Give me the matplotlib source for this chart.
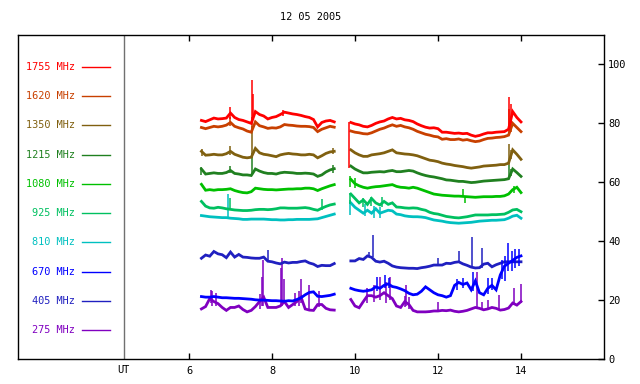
import numpy as np
import matplotlib
matplotlib.use("Agg")
import matplotlib.pyplot as plt
from matplotlib.transforms import blended_transform_factory

plt.rcParams['font.family'] = ['DejaVu Sans Mono']

title = "12 05 2005"
labels = ["1755 MHz", "1620 MHz", "1350 MHz", "1215 MHz", "1080 MHz",
          "925 MHz", "810 MHz", "670 MHz", "405 MHz", "275 MHz"]
colors = ["#ff0000", "#c84000", "#806010", "#208020", "#00c000",
          "#00c060", "#00c0c0", "#0000ff", "#2020c0", "#8000c0"]

x_ticks = [6, 8, 10, 12, 14]
y_ticks = [0, 20, 40, 60, 80, 100]
ut_hour = 4.43

# sample times (UT hours) of the two observing segments
t_seg1 = np.round(np.arange(6.3, 9.51, 0.1), 2)
t_seg2 = np.concatenate([[9.85], np.round(np.arange(9.9, 14.01, 0.1), 2)])

v1755_a = [81, 80.6, 81.2, 81.8, 81.5, 81.6, 81.8, 83.5, 82, 81.3, 81, 80.5, 80, 84, 83, 82.5,
           81.5, 82, 82.3, 83, 83.8, 83.5, 83.2, 83, 82.7, 82.3, 82, 81.3, 78.8, 80.3, 80.8, 81, 80.5]
v1755_b = [65, 80.3, 79.8, 79.5, 79, 78.8, 79.3, 80, 80.5, 80.8, 81.5, 82, 81.5, 81.7, 81.2, 81,
           80.6, 79.8, 79.2, 78.7, 78.4, 78.5, 78.2, 77, 77, 76.8, 76.6, 76.7, 76.5, 76.6, 76, 75.6,
           75.9, 76.4, 76.8, 76.8, 77, 77.1, 77.2, 78, 84, 82, 80.5]
s1755 = [(6.99, 81.5, 85.6), (7.52, 80, 94.7), (7.55, 82, 90), (8.27, 82.5, 84.5),
         (9.86, 65, 80.3), (13.72, 78, 89), (13.75, 80, 86.5)]

v1620_a = [78.6, 78.2, 78.6, 79, 78.8, 79, 79.4, 80.3, 79, 78.5, 78.1, 77.4, 77, 80.5, 79.2, 78.8,
           78.3, 78.5, 78.4, 78.8, 79.6, 79.4, 79.3, 79.1, 79, 79, 78.9, 78.6, 77.2, 78, 78.5, 79, 78.7]
v1620_b = [76, 77.4, 77, 76.8, 76.5, 76.4, 76.8, 77.4, 78, 78.4, 79, 79.5, 79, 79.3, 78.8, 78.5,
           78, 77.3, 76.8, 76.3, 76, 75.6, 75.4, 74.6, 74.8, 74.5, 74.5, 74.7, 74.3, 74.5, 74.1, 73.8,
           74, 74.5, 74.9, 75, 75.2, 75.3, 75.5, 76, 80, 78.6, 77.2]
s1620 = [(6.99, 79, 82.3), (7.53, 77, 82), (13.72, 76, 84.8), (13.76, 77, 81)]

v1350_a = [70.5, 69.2, 69.3, 69.5, 69.3, 69.3, 69.7, 70.5, 69.5, 69, 68.5, 68.3, 68.5, 71.5, 70, 69.5,
           69.3, 69, 68.7, 69.3, 69.6, 69.8, 69.6, 69.5, 69.3, 69.3, 69.5, 69.3, 68.3, 69, 69.8, 70.3, 70.5]
v1350_b = [71.5, 71, 70, 69.3, 68.8, 68.8, 69.3, 69.5, 69.7, 70, 70.5, 71, 70, 69.8, 69.6, 69.5,
           69.3, 69, 68.5, 68, 67.5, 67.3, 67, 66.5, 66.2, 66, 65.7, 65.5, 65.3, 65, 64.8, 65,
           65.2, 65.5, 65.6, 65.7, 65.8, 66, 66, 66.5, 71, 69.5, 67.8]
s1350 = [(6.31, 69, 71.2), (6.99, 69.3, 72.3), (7.52, 68.3, 79), (9.46, 69.5, 71.8),
         (13.72, 66, 73), (13.77, 68, 71)]

v1215_a = [64.5, 62.8, 63, 63.2, 63, 63, 63.3, 64, 63, 62.8, 62.5, 62.5, 62.3, 64.5, 63.8, 63.3,
           63, 63, 62.8, 63.2, 63.4, 63.3, 63.2, 63, 63, 63.1, 63, 62.8, 62, 62.5, 63.5, 64.2, 64.6]
v1215_b = [66.5, 65.5, 64.5, 63.8, 63.2, 63.2, 63.4, 63.5, 63.6, 63.5, 63.8, 64, 63.6, 63.6, 63.8, 64,
           63.8, 63.2, 62.7, 62.3, 62, 61.8, 61.5, 61.2, 60.8, 60.7, 60.5, 60.3, 60.3, 60.1, 59.9, 60,
           60.2, 60.4, 60.5, 60.6, 60.7, 60.8, 60.9, 61.2, 64.5, 63.3, 62]
s1215 = [(6.3, 62.5, 65.2), (6.99, 63, 65.6), (7.52, 62.3, 70), (9.48, 63.3, 65.8),
         (13.72, 61, 66), (13.77, 62, 64.5)]

v1080_a = [59.3, 57.3, 57.5, 57.3, 57.5, 57.5, 57.6, 57.8, 57.2, 56.8, 56.5, 56.4, 56.8, 58, 57.8, 57.6,
           57.5, 57.5, 57.4, 57.5, 57.6, 57.7, 57.7, 57.8, 57.8, 58, 58, 57.8, 57.2, 57.8, 58.3, 58.8, 59.2]
v1080_b = [61.5, 61, 59.5, 58.8, 58.3, 58, 58.3, 58.5, 58.6, 58.8, 59, 59.2, 58.6, 58.3, 58.2, 58,
           58.3, 58, 57.5, 57, 56.5, 56, 55.8, 55.6, 55.5, 55.4, 55.3, 55.3, 55.2, 55.1, 55, 54.9,
           55, 55.1, 55.1, 55.1, 55.2, 55.2, 55.4, 56, 57.5, 58.3, 56.5]
s1080 = [(9.88, 58.5, 62), (10.0, 58, 61.5), (12.6, 55, 57.7), (12.65, 53, 55.2), (13.82, 56.5, 58.8)]

v925_a = [53.5, 51.9, 51.3, 51.2, 51.5, 51.3, 51, 50.8, 50.6, 50.5, 50.4, 50.4, 50.5, 50.7, 50.8, 50.8,
          50.7, 50.8, 51, 51.3, 51.3, 51.2, 51.2, 51.2, 51.3, 51.4, 51.2, 50.8, 50.5, 51.2, 51.8, 52.3, 52.6]
v925_b = [56.5, 56, 54.5, 53, 54, 52.5, 54.5, 53, 52.3, 53.5, 52.5, 53, 51.6, 51.5, 51.3, 51.2,
          51.3, 51.2, 50.8, 50.5, 49.8, 49.4, 49.2, 48.8, 48.4, 48.2, 48, 47.9, 48.1, 48.3, 48.6, 48.9,
          48.9, 48.9, 48.9, 49, 49, 49.1, 49.2, 49.8, 50.6, 50.8, 50]
s925 = [(6.98, 51, 54.5), (9.2, 50.5, 54.3), (9.88, 52.5, 56.5), (10.2, 51.5, 54.5),
        (10.38, 52, 55), (10.65, 51.5, 55)]

v810_a = [48.7, 48.5, 48.3, 48.2, 48.1, 48, 48, 47.8, 47.7, 47.6, 47.4, 47.4, 47.5, 47.5, 47.5, 47.5,
          47.4, 47.3, 47.3, 47.2, 47.2, 47.3, 47.3, 47.4, 47.4, 47.4, 47.4, 47.5, 47.6, 48, 48.4, 48.8, 49.2]
v810_b = [53.5, 53, 51.5, 50.5, 49.5, 50.5, 49.5, 51, 49.5, 50, 50.5, 50.3, 49.2, 49, 48.6, 48.4,
          48.3, 48.3, 48.2, 48, 47.6, 47.2, 47, 46.8, 46.5, 46.3, 46.2, 46.1, 46.2, 46.3, 46.4, 46.6,
          46.8, 46.9, 47, 47.1, 47.1, 47.2, 47.3, 47.8, 48.5, 48.8, 47.8]
s810 = [(6.95, 47.8, 56), (9.88, 49, 54), (10.25, 48.5, 52.5), (10.45, 48, 52), (10.6, 48, 51.5)]

v670_a = [21.2, 21, 21, 21.2, 21, 20.8, 20.8, 20.7, 20.6, 20.6, 20.5, 20.4, 20.3, 20.1, 20, 20,
          19.9, 19.8, 19.8, 19.7, 19.6, 19.8, 19.7, 20.2, 20.8, 21.8, 22.6, 22.8, 21.3, 21.2, 21.4, 21.6, 22]
v670_b = [24, 24, 23.5, 23.2, 23, 23.2, 23.5, 24.5, 24, 25, 25.5, 24.6, 24.3, 23.8, 23.2, 22.3,
          21.8, 22, 23, 24.5, 23.5, 22.5, 21.8, 21.5, 21, 21.5, 25, 26, 25.3, 25.8, 23.5, 26.5,
          22.5, 21.8, 24, 25, 23.5, 28.5, 31.5, 32.5, 33.5, 34.5, 35]
s670 = [(10.52, 23, 28), (10.72, 24, 28.5), (10.82, 24, 27.5), (12.45, 23.5, 27), (12.6, 24, 27.5),
        (12.85, 23, 29.6), (13.2, 22, 27.5), (13.3, 23.5, 27.5), (13.55, 27, 33.5), (13.62, 26.5, 35),
        (13.69, 30, 39.5), (13.78, 30, 36.5), (13.85, 31, 37.5), (13.95, 31.5, 37.5)]

v405_a = [34.2, 35.3, 34.9, 36.5, 35.7, 35.4, 34.4, 36.3, 34.6, 35.5, 34.6, 34.5, 34.3, 34.2, 34.2, 34.6,
          33.2, 33, 32.6, 32.3, 32.9, 32.6, 32.8, 32.8, 33.1, 33.3, 32.6, 32.2, 31.4, 31.8, 31.7, 31.7, 32.4]
v405_b = [31.3, 33.3, 33.3, 34.1, 33.8, 35, 34.5, 33.2, 32.9, 33.2, 32.5, 31.6, 31.2, 31, 30.9, 30.8,
          30.8, 30.7, 31, 31.2, 31.5, 31.9, 31.9, 31.9, 32.5, 32.4, 32.8, 33, 32.3, 31.8, 31.2, 30.9,
          31, 32.2, 32.5, 31.3, 32, 32.5, 33, 33, 33, 33, 33]
s405 = [(7.9, 33.5, 37), (10.34, 34.5, 36.2), (10.44, 34.5, 42.1), (12.01, 31.9, 34.2),
        (12.51, 33, 36.7), (12.83, 31.2, 41.5), (13.05, 31, 37.6)]

v275_a = [17, 17.8, 20.5, 19.5, 18.8, 17.5, 16.5, 17.5, 17.5, 18, 16.8, 16, 16.5, 17.8, 19.5, 21,
          17.5, 17.5, 17.5, 18, 19.5, 17.5, 18.5, 19.5, 21, 17, 16.6, 16.5, 18.5, 18.5, 17.2, 16.7, 16.6]
v275_b = [21, 20.2, 18, 17.4, 19.5, 21.5, 21.5, 21, 21.5, 22.5, 21.5, 20.5, 18, 17.5, 19.5, 18.5,
          16.5, 16, 16, 16, 16.1, 16.3, 16.3, 16.5, 16.4, 16.6, 16.2, 16, 16.2, 16.5, 17, 17.5,
          17.2, 16.7, 17, 17.5, 17.2, 16.6, 16.8, 17.3, 19, 18.3, 19.5]
s275 = [(6.52, 19, 23.5), (6.55, 18, 23), (6.65, 18, 22.5), (7.7, 17, 22), (7.77, 18, 28),
        (7.79, 18, 33.6), (8.22, 18, 31), (8.25, 18, 34.2), (8.28, 19, 27), (8.55, 18, 22.5),
        (8.65, 18, 23), (8.71, 19, 27), (8.9, 16.6, 25), (9.13, 17.5, 23), (10.3, 19, 24),
        (10.45, 19.5, 25), (10.6, 20, 28), (10.75, 19, 26), (10.84, 20, 28), (11.2, 17.5, 21.5),
        (11.24, 18, 25), (11.3, 17, 21), (12.01, 16.3, 19.5), (12.95, 17, 29.6), (13.05, 17, 19.5),
        (13.2, 17, 20), (13.46, 17, 21.7), (13.82, 18.5, 24), (13.99, 19, 25.5)]

series = [
    (v1755_a, v1755_b, s1755), (v1620_a, v1620_b, s1620), (v1350_a, v1350_b, s1350),
    (v1215_a, v1215_b, s1215), (v1080_a, v1080_b, s1080), (v925_a, v925_b, s925),
    (v810_a, v810_b, s810), (v670_a, v670_b, s670), (v405_a, v405_b, s405),
    (v275_a, v275_b, s275),
]

fig = plt.figure(figsize=(6.4, 3.84), dpi=100)
ax = fig.add_axes([18 / 640, 25 / 384, 586 / 640, 324 / 384])
ax.set_xlim(1.88, 16)
ax.set_ylim(0, 110)

# draw from lowest frequency to highest (highest on top)
for i in reversed(range(len(series))):
    a, b, sp = series[i]
    x = np.concatenate([t_seg1, [np.nan], t_seg2[1:]])
    y = np.concatenate([a, [np.nan], b[1:]])
    ax.plot(x, y, color=colors[i], lw=2.0, solid_joinstyle='miter')
    if sp:
        st, lo, hi = zip(*sp)
        ax.vlines(st, lo, hi, color=colors[i], lw=1.1)

# legend in the left panel
leg_top, leg_step = 99.2, 9.94
for i, lab in enumerate(labels):
    yy = leg_top - leg_step * i
    ax.plot([3.42, 4.10], [yy, yy], color=colors[i], lw=1.0)
    ax.text(3.26, yy, lab, color=colors[i], ha='right', va='center', fontsize=7.4)

ax.axvline(ut_hour, color='#707070', lw=1.0)

ax.set_xticks(x_ticks)
ax.set_xticklabels([str(v) for v in x_ticks])
ax.tick_params(axis='x', direction='in', top=True, bottom=True, length=4, width=1,
               pad=5, labelsize=7.4)
ax.yaxis.tick_right()
ax.set_yticks(y_ticks)
ax.set_yticklabels([str(v) for v in y_ticks])
ax.tick_params(axis='y', direction='in', left=False, right=True, length=4, width=1,
               pad=3, labelsize=7.4)
for s in ax.spines.values():
    s.set_linewidth(1.0)
    s.set_color('black')

trans = blended_transform_factory(ax.transData, ax.transAxes)
ax.text(ut_hour, -0.02, "UT", transform=trans, ha='center', va='top', fontsize=7.4)

fig.text(311 / 640, 1 - 17 / 384, title, ha='center', va='center', fontsize=7.4)

fig.savefig("out.png", dpi=100)
